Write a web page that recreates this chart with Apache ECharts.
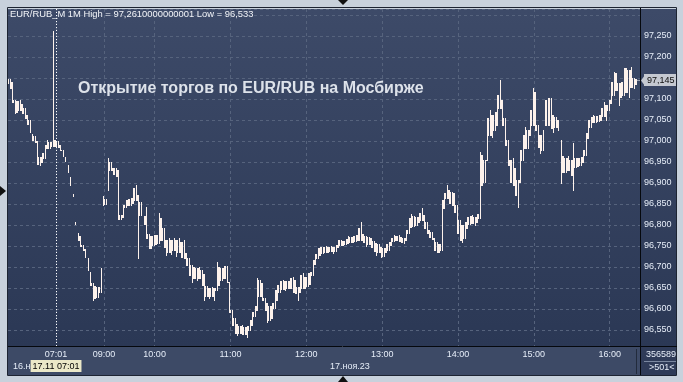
<!DOCTYPE html>
<html><head><meta charset="utf-8">
<script src="https://cdn.jsdelivr.net/npm/echarts@6/dist/echarts.min.js"></script>
<style>html,body{margin:0;padding:0;background:#c8d1dc;overflow:hidden}#c{width:683px;height:382px}</style>
</head><body><div id="c"></div>
<script>
// 2-minute bars: highs and lows (EUR/RUB, 16.11 evening + 17.11 session)
const highs = [
97.148,97.148,97.140,97.098,97.095,97.098,97.088,97.079,97.062,97.050,
97.017,97.012,97.000,96.962,96.971,96.990,97.002,96.998,97.261,97.002,
97.000,96.990,96.979,96.962,96.943,96.914,96.874,96.807,96.781,96.774,
96.752,96.743,96.721,96.688,96.662,96.655,96.652,96.698,96.869,96.862,
96.960,96.950,96.936,96.936,96.931,96.824,96.848,96.860,96.862,96.864,
96.888,96.895,96.871,96.855,96.821,96.843,96.779,96.774,96.776,96.776,
96.829,96.817,96.793,96.764,96.769,96.764,96.769,96.764,96.769,96.760,
96.764,96.733,96.721,96.705,96.700,96.698,96.700,96.693,96.683,96.655,
96.650,96.652,96.650,96.712,96.700,96.698,96.702,96.702,96.664,96.598,
96.579,96.564,96.560,96.562,96.557,96.560,96.574,96.593,96.607,96.674,
96.669,96.662,96.626,96.614,96.607,96.614,96.645,96.657,96.667,96.669,
96.667,96.667,96.674,96.676,96.669,96.652,96.681,96.686,96.676,96.686,
96.688,96.717,96.731,96.745,96.748,96.748,96.750,96.748,96.750,96.748,
96.752,96.764,96.764,96.762,96.767,96.774,96.771,96.774,96.776,96.793,
96.807,96.779,96.774,96.771,96.769,96.762,96.757,96.755,96.748,96.745,
96.755,96.760,96.769,96.776,96.774,96.776,96.771,96.769,96.788,96.817,
96.826,96.821,96.819,96.829,96.840,96.824,96.807,96.788,96.783,96.769,
96.760,96.755,96.860,96.876,96.895,96.883,96.879,96.876,96.848,96.812,
96.800,96.807,96.819,96.821,96.824,96.819,96.826,96.974,96.967,96.955,
97.055,97.074,97.062,97.069,97.110,97.145,97.098,97.055,97.002,96.955,
96.960,96.936,96.907,96.979,97.014,97.033,97.026,97.074,97.126,97.117,
97.038,97.014,97.026,97.098,97.102,97.102,97.062,97.057,97.050,97.002,
96.964,96.960,96.964,96.955,96.995,96.960,96.960,96.962,96.979,97.019,
97.050,97.057,97.062,97.060,97.062,97.079,97.093,97.086,97.098,97.140,
97.164,97.162,97.138,97.140,97.174,97.174,97.169,97.176,97.150,97.148
];
const lows = [
97.138,97.126,97.093,97.067,97.069,97.074,97.067,97.055,97.040,97.021,
97.002,96.998,96.945,96.943,96.950,96.960,96.983,96.983,96.988,96.988,
96.986,96.979,96.964,96.952,96.926,96.895,96.869,96.802,96.764,96.750,
96.740,96.724,96.693,96.657,96.621,96.626,96.629,96.640,96.848,96.850,
96.883,96.931,96.921,96.917,96.814,96.814,96.819,96.843,96.848,96.848,
96.852,96.860,96.721,96.824,96.802,96.769,96.745,96.745,96.752,96.755,
96.757,96.764,96.748,96.729,96.736,96.731,96.740,96.726,96.736,96.724,
96.721,96.705,96.681,96.664,96.674,96.669,96.674,96.657,96.621,96.631,
96.626,96.631,96.621,96.645,96.657,96.669,96.674,96.664,96.593,96.562,
96.543,96.538,96.543,96.541,96.541,96.533,96.550,96.562,96.583,96.598,
96.631,96.621,96.598,96.569,96.574,96.579,96.602,96.621,96.640,96.648,
96.645,96.650,96.650,96.640,96.638,96.621,96.640,96.650,96.650,96.655,
96.660,96.681,96.707,96.721,96.729,96.733,96.736,96.736,96.738,96.733,
96.738,96.748,96.752,96.752,96.755,96.757,96.760,96.760,96.762,96.764,
96.764,96.760,96.750,96.755,96.748,96.738,96.729,96.736,96.724,96.726,
96.736,96.740,96.752,96.762,96.764,96.762,96.760,96.757,96.764,96.781,
96.795,96.798,96.800,96.807,96.812,96.793,96.781,96.771,96.767,96.740,
96.736,96.736,96.740,96.840,96.864,96.852,96.848,96.831,96.781,96.764,
96.760,96.769,96.793,96.802,96.805,96.800,96.807,96.817,96.895,96.902,
96.955,97.014,97.010,97.026,97.038,97.079,97.038,96.990,96.943,96.902,
96.895,96.871,96.843,96.902,96.955,96.983,96.983,97.014,97.038,97.026,
96.986,96.971,96.979,97.038,97.038,97.031,97.021,97.033,97.026,96.900,
96.926,96.926,96.931,96.919,96.883,96.938,96.940,96.943,96.950,96.967,
97.007,97.033,97.045,97.045,97.048,97.050,97.060,97.050,97.074,97.090,
97.110,97.121,97.086,97.105,97.110,97.117,97.105,97.129,97.126,97.136
];
const tickIndex  = [19, 38, 58, 88, 118, 148, 178, 208, 238];
const tickLabels = ['07:01','09:00','10:00','11:00','12:00','13:00','14:00','15:00','16:00'];
const cursorIndex = 19;
const cursorLabel = '17.11 07:01';
const lastPrice = 97.145;
const headerText = 'EUR/RUB_M 1M High = 97,2610000000001 Low = 96,533';
const titleText = 'Открытие торгов по EUR/RUB на Мосбирже';
const dateLabels = ['16.ноя.23', '17.ноя.23'];
const volumeText = '356589';
const barsText = '>501<';

const categories = Array.from({length: highs.length + 1}, (_, i) => String(i));
const fmt = v => v.toFixed(3).replace('.', ',');
const FONT = '"Liberation Sans", Arial, sans-serif';
const BAR = '#fdf2ec';
const grad = () => new echarts.graphic.LinearGradient(0, 0, 0, 1, [
  {offset: 0, color: '#3d4a68'}, {offset: 1, color: '#2b3855'}]);

const chart = echarts.init(document.getElementById('c'), null, {renderer: 'canvas'});
chart.setOption({
  animation: false,
  backgroundColor: '#c8d1dc',
  textStyle: {fontFamily: FONT},
  grid: {left: 8, right: 43, top: 9, bottom: 36, show: true, backgroundColor: grad(), borderWidth: 0},
  xAxis: {
    type: 'category', data: categories, boundaryGap: false,
    axisLine: {show: false}, axisTick: {show: false},
    axisLabel: {
      interval: (i) => tickIndex.includes(i),
      formatter: (v, i) => { const k = tickIndex.indexOf(i); return k >= 0 ? tickLabels[k] : ''; },
      color: '#e6edf8', fontSize: 9, margin: 4, fontFamily: FONT
    },
    splitLine: {show: true, interval: (i) => tickIndex.includes(i),
      lineStyle: {color: '#56637d', type: [3, 3], width: 1}}
  },
  yAxis: {
    type: 'value', position: 'right', min: 96.5119, max: 97.3143,
    splitNumber: 16, minInterval: 0.05, maxInterval: 0.05, scale: true,
    axisLine: {show: false}, axisTick: {show: false},
    axisLabel: {margin: 4, color: '#e6edf8', fontSize: 9, fontFamily: FONT,
      showMinLabel: false, showMaxLabel: false,
      formatter: v => (v > 97.27 || v < 96.53) ? '' : fmt(v)},
    splitLine: {lineStyle: {color: '#56637d', type: [3, 3], width: 1}}
  },
  series: [{
    type: 'custom',
    data: highs.map((h, i) => [i, lows[i], h]),
    encode: {x: 0, y: [1, 2]},
    renderItem: (params, api) => {
      const i = api.value(0), lo = api.value(1), hi = api.value(2);
      const a = api.coord([i, hi]), b = api.coord([i, lo]);
      const x = Math.round(a[0]) - 1;
      const y = Math.round(a[1]);
      const children = [{type: 'rect', shape: {x: x, y: y, width: 1, height: Math.max(1, Math.round(b[1]) - y + 1)}, style: {fill: BAR}}];
      if (i + 1 < highs.length) {
        const top = Math.min(hi, highs[i + 1]), bot = Math.max(lo, lows[i + 1]);
        if (top >= bot) {
          const c = api.coord([i, top]), d = api.coord([i, bot]);
          const yy = Math.round(c[1]);
          children.push({type: 'rect', shape: {x: x + 1, y: yy, width: 1, height: Math.max(1, Math.round(d[1]) - yy + 1)}, style: {fill: BAR}});
        }
      }
      return {type: 'group', children: children};
    },
    markLine: {
      silent: true, symbol: 'none', animation: false,
      data: [
        {xAxis: cursorIndex,
          lineStyle: {color: '#ffffff', type: [1, 2], width: 1},
          label: {show: true, position: 'start', formatter: cursorLabel, backgroundColor: '#ebe8c8',
            color: '#000000', fontSize: 9, fontFamily: FONT, padding: [2, 2, 1, 2], distance: 14}},
        [{coord: [highs.length - 1, lastPrice],
          lineStyle: {color: '#ffffff', type: [1, 1], width: 1},
          label: {show: true, position: 'end', formatter: fmt(lastPrice), backgroundColor: '#c5c9d1',
            color: '#0c0c0c', fontSize: 9, fontFamily: FONT, padding: [2, 3, 1, 3], distance: 4}},
         {coord: [highs.length, lastPrice]}]
      ]
    }
  }],
  graphic: [
    {type: 'rect', silent: true, z: -10, shape: {x: 641, y: 9, width: 36, height: 337}, style: {fill: grad()}},
    {type: 'rect', silent: true, z: -10, shape: {x: 8, y: 347, width: 633, height: 28}, style: {fill: '#3d4a66'}},
    {type: 'rect', silent: true, z: -10, shape: {x: 641, y: 347, width: 36, height: 28}, style: {fill: '#2f3b58'}},
    {type: 'text', silent: true, z: -5, x: 13, y: 367, style: {text: dateLabels[0], fill: '#e6edf8', font: '9px ' + FONT, verticalAlign: 'middle'}},
    {type: 'text', silent: true, z: -5, x: 330, y: 367, style: {text: dateLabels[1], fill: '#e6edf8', font: '9px ' + FONT, verticalAlign: 'middle'}},
    {type: 'text', silent: true, z: 100, x: 646, y: 355, style: {text: volumeText, fill: '#e6edf8', font: '9px ' + FONT, verticalAlign: 'middle'}},
    {type: 'text', silent: true, z: 100, x: 649, y: 368, style: {text: barsText, fill: '#e6edf8', font: '9px ' + FONT, verticalAlign: 'middle'}},
    {type: 'text', silent: true, z: 100, x: 10, y: 14.5, style: {text: headerText, fill: '#f2f4f8', font: '9.4px ' + FONT, verticalAlign: 'middle'}},
    {type: 'text', silent: true, z: 100, x: 78, y: 88.5, style: {text: titleText, fill: '#dde2ea', font: 'bold 16px ' + FONT, verticalAlign: 'middle'}},
    {type: 'polygon', silent: true, z: 100, shape: {points: [[641, 80.5], [645, 75], [645, 86]]}, style: {fill: '#c5c9d1'}},
    {type: 'rect', silent: true, z: 100, shape: {x: 7.5, y: 7.5, width: 669, height: 368}, style: {fill: null, stroke: '#1d2432', lineWidth: 1}},
    {type: 'line', silent: true, z: 100, shape: {x1: 640.5, y1: 8, x2: 640.5, y2: 375}, style: {stroke: '#05080d', lineWidth: 1}},
    {type: 'line', silent: true, z: 100, shape: {x1: 8, y1: 346.5, x2: 677, y2: 346.5}, style: {stroke: '#05080d', lineWidth: 1}},
    {type: 'line', silent: true, z: 100, shape: {x1: 636.5, y1: 349, x2: 636.5, y2: 374}, style: {stroke: '#222b3c', lineWidth: 1}},
    {type: 'line', silent: true, z: 100, shape: {x1: 644, y1: 361.5, x2: 676, y2: 361.5}, style: {stroke: '#7b88a0', lineWidth: 1}},
    {type: 'polygon', silent: true, z: 100, shape: {points: [[338, 0], [348, 0], [343, 5]]}, style: {fill: '#111111'}},
    {type: 'polygon', silent: true, z: 100, shape: {points: [[338, 382], [348, 382], [343, 376]]}, style: {fill: '#111111'}},
    {type: 'polygon', silent: true, z: 100, shape: {points: [[0, 186], [0, 196], [6, 191]]}, style: {fill: '#111111'}}
  ]
});
</script>
</body></html>
